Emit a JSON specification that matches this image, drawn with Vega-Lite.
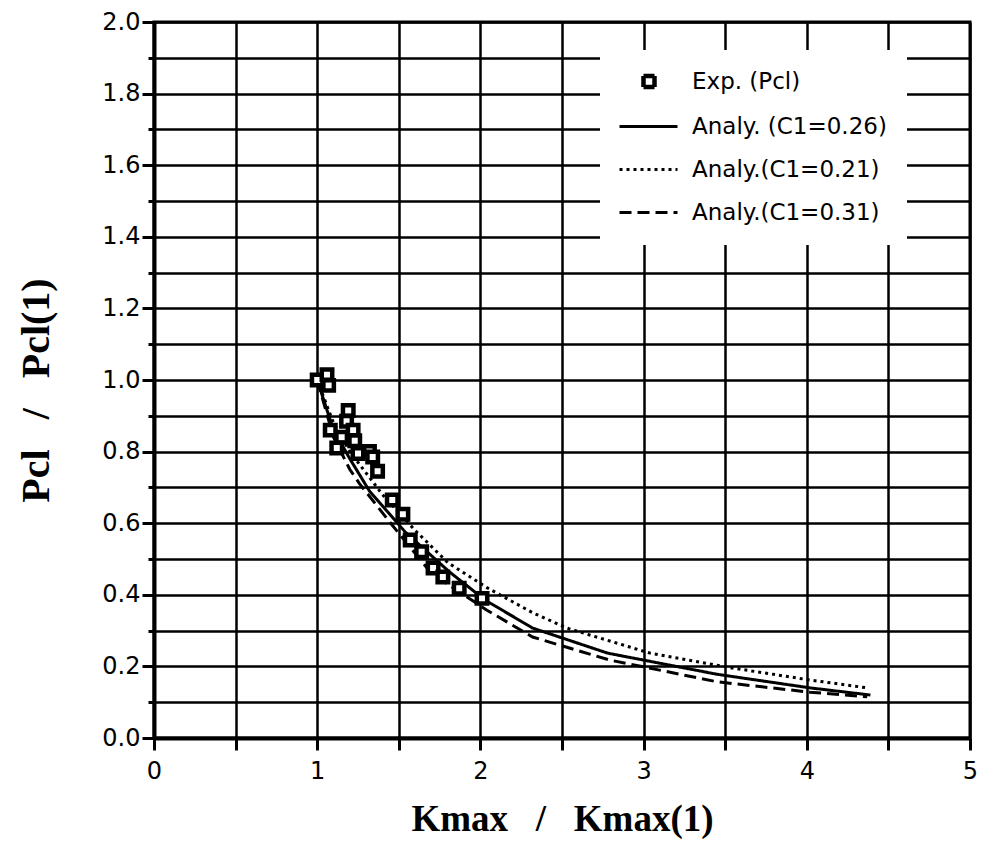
{
  "$schema": "https://vega.github.io/schema/vega-lite/v6.json",
  "width": 816,
  "height": 716,
  "autosize": {"type": "none"},
  "padding": {"left": 154, "top": 22, "right": 12, "bottom": 106},
  "background": "white",
  "config": {
    "view": {"stroke": "black", "strokeWidth": 3},
    "axis": {
      "grid": true,
      "gridColor": "black",
      "gridWidth": 2.5,
      "gridOpacity": 1,
      "domainColor": "black",
      "domainWidth": 4,
      "tickColor": "black",
      "tickWidth": 3,
      "labelColor": "black",
      "labelFont": "DejaVu Sans",
      "labelFontSize": 24,
      "titleColor": "black",
      "titleFont": "Liberation Serif",
      "titleFontWeight": "bold"
    }
  },
  "data": {
    "values": [
      {"series": "Exp. (Pcl)", "x": 1.0, "y": 1.0},
      {"series": "Exp. (Pcl)", "x": 1.06, "y": 1.015},
      {"series": "Exp. (Pcl)", "x": 1.07, "y": 0.985},
      {"series": "Exp. (Pcl)", "x": 1.19, "y": 0.915},
      {"series": "Exp. (Pcl)", "x": 1.18, "y": 0.885},
      {"series": "Exp. (Pcl)", "x": 1.08, "y": 0.86},
      {"series": "Exp. (Pcl)", "x": 1.15, "y": 0.84},
      {"series": "Exp. (Pcl)", "x": 1.22, "y": 0.86},
      {"series": "Exp. (Pcl)", "x": 1.12, "y": 0.81},
      {"series": "Exp. (Pcl)", "x": 1.23, "y": 0.83},
      {"series": "Exp. (Pcl)", "x": 1.25, "y": 0.795},
      {"series": "Exp. (Pcl)", "x": 1.32, "y": 0.80},
      {"series": "Exp. (Pcl)", "x": 1.34, "y": 0.785},
      {"series": "Exp. (Pcl)", "x": 1.37, "y": 0.745},
      {"series": "Exp. (Pcl)", "x": 1.46, "y": 0.665},
      {"series": "Exp. (Pcl)", "x": 1.525, "y": 0.625},
      {"series": "Exp. (Pcl)", "x": 1.57, "y": 0.553},
      {"series": "Exp. (Pcl)", "x": 1.64, "y": 0.52},
      {"series": "Exp. (Pcl)", "x": 1.71, "y": 0.475},
      {"series": "Exp. (Pcl)", "x": 1.77, "y": 0.45},
      {"series": "Exp. (Pcl)", "x": 1.87, "y": 0.418},
      {"series": "Exp. (Pcl)", "x": 2.01, "y": 0.39},

      {"series": "Analy. (C1=0.26)", "x": 1.0, "y": 1.0},
      {"series": "Analy. (C1=0.26)", "x": 1.05, "y": 0.93},
      {"series": "Analy. (C1=0.26)", "x": 1.1, "y": 0.86},
      {"series": "Analy. (C1=0.26)", "x": 1.2, "y": 0.78},
      {"series": "Analy. (C1=0.26)", "x": 1.32, "y": 0.69},
      {"series": "Analy. (C1=0.26)", "x": 1.54, "y": 0.575},
      {"series": "Analy. (C1=0.26)", "x": 1.81, "y": 0.464},
      {"series": "Analy. (C1=0.26)", "x": 2.03, "y": 0.385},
      {"series": "Analy. (C1=0.26)", "x": 2.32, "y": 0.307},
      {"series": "Analy. (C1=0.26)", "x": 2.78, "y": 0.237},
      {"series": "Analy. (C1=0.26)", "x": 3.45, "y": 0.178},
      {"series": "Analy. (C1=0.26)", "x": 4.02, "y": 0.14},
      {"series": "Analy. (C1=0.26)", "x": 4.39, "y": 0.12},

      {"series": "Analy.(C1=0.21)", "x": 1.0, "y": 1.0},
      {"series": "Analy.(C1=0.21)", "x": 1.1, "y": 0.88},
      {"series": "Analy.(C1=0.21)", "x": 1.2, "y": 0.8},
      {"series": "Analy.(C1=0.21)", "x": 1.4, "y": 0.68},
      {"series": "Analy.(C1=0.21)", "x": 1.6, "y": 0.58},
      {"series": "Analy.(C1=0.21)", "x": 1.8, "y": 0.49},
      {"series": "Analy.(C1=0.21)", "x": 2.04, "y": 0.42},
      {"series": "Analy.(C1=0.21)", "x": 2.32, "y": 0.35},
      {"series": "Analy.(C1=0.21)", "x": 2.53, "y": 0.307},
      {"series": "Analy.(C1=0.21)", "x": 3.04, "y": 0.237},
      {"series": "Analy.(C1=0.21)", "x": 3.51, "y": 0.198},
      {"series": "Analy.(C1=0.21)", "x": 4.02, "y": 0.162},
      {"series": "Analy.(C1=0.21)", "x": 4.37, "y": 0.14},

      {"series": "Analy.(C1=0.31)", "x": 1.0, "y": 1.0},
      {"series": "Analy.(C1=0.31)", "x": 1.1, "y": 0.84},
      {"series": "Analy.(C1=0.31)", "x": 1.2, "y": 0.75},
      {"series": "Analy.(C1=0.31)", "x": 1.26, "y": 0.71},
      {"series": "Analy.(C1=0.31)", "x": 1.45, "y": 0.6},
      {"series": "Analy.(C1=0.31)", "x": 1.7, "y": 0.46},
      {"series": "Analy.(C1=0.31)", "x": 2.04, "y": 0.357},
      {"series": "Analy.(C1=0.31)", "x": 2.32, "y": 0.282},
      {"series": "Analy.(C1=0.31)", "x": 2.79, "y": 0.218},
      {"series": "Analy.(C1=0.31)", "x": 3.45, "y": 0.157},
      {"series": "Analy.(C1=0.31)", "x": 4.02, "y": 0.128},
      {"series": "Analy.(C1=0.31)", "x": 4.37, "y": 0.115}
    ]
  },
  "encoding": {
    "x": {
      "field": "x",
      "type": "quantitative",
      "scale": {"domain": [0, 5], "nice": false, "zero": false},
      "axis": {
        "values": [0, 0.5, 1, 1.5, 2, 2.5, 3, 3.5, 4, 4.5, 5],
        "labelExpr": "datum.value % 1 === 0 ? format(datum.value, 'd') : ''",
        "tickSize": 12,
        "labelPadding": 9,
        "labelFlush": false,
        "labelOverlap": false,
        "title": "Kmax\u00a0\u00a0\u00a0/\u00a0\u00a0\u00a0Kmax(1)",
        "titleFontSize": 37,
        "titleY": 92,
        "titleBaseline": "alphabetic"
      }
    },
    "y": {
      "field": "y",
      "type": "quantitative",
      "scale": {"domain": [0, 2], "nice": false, "zero": false},
      "axis": {
        "values": [0, 0.1, 0.2, 0.3, 0.4, 0.5, 0.6, 0.7, 0.8, 0.9, 1.0, 1.1, 1.2, 1.3, 1.4, 1.5, 1.6, 1.7, 1.8, 1.9, 2.0],
        "labelExpr": "round(datum.value * 10) % 2 === 0 ? format(datum.value, '.1f') : ''",
        "tickSize": {"condition": {"test": "round(datum.value * 10) % 2 === 0", "value": 12}, "value": 6},
        "labelPadding": 2,
        "labelFlush": false,
        "labelOverlap": false,
        "title": "Pcl\u00a0\u00a0\u00a0/\u00a0\u00a0\u00a0Pcl(1)",
        "titleFontSize": 40,
        "titleAngle": -90,
        "titleX": -106,
        "titleY": 368,
        "titleAlign": "center",
        "titleBaseline": "alphabetic"
      }
    }
  },
  "layer": [
    {
      "transform": [{"filter": "datum.series !== 'Exp. (Pcl)'"}],
      "mark": {"type": "line", "color": "black", "strokeWidth": 3},
      "encoding": {
        "strokeDash": {
          "field": "series",
          "type": "nominal",
          "scale": {
            "domain": ["Exp. (Pcl)", "Analy. (C1=0.26)", "Analy.(C1=0.21)", "Analy.(C1=0.31)"],
            "range": [[1, 0], [1, 0], [3, 4], [12, 6]]
          },
          "legend": {
            "title": null,
            "orient": "none",
            "legendX": 446,
            "legendY": 28,
            "fillColor": "white",
            "padding": 20,
            "rowPadding": 19,
            "labelOffset": 49,
            "labelFont": "DejaVu Sans",
            "labelFontSize": 23,
            "labelColor": "black",
            "labelLimit": 400,
            "symbolSize": 400,
            "symbolStrokeWidth": 3,
            "symbolStrokeColor": "black",
            "encode": {
              "symbols": {
                "update": {
                  "shape": {"signal": "datum.value === 'Exp. (Pcl)' ? 'M1.2,-0.55H2.3V0.55H1.2Z' : 'M-1.2,0H4.6'"},
                  "fill": {"signal": "datum.value === 'Exp. (Pcl)' ? 'white' : 'transparent'"},
                  "strokeWidth": {"signal": "datum.value === 'Exp. (Pcl)' ? 4.5 : 3"},
                  "stroke": {"value": "black"},
                  "opacity": {"value": 1}
                }
              }
            }
          }
        }
      }
    },
    {
      "transform": [{"filter": "datum.series === 'Exp. (Pcl)'"}],
      "mark": {"type": "point", "shape": "square", "size": 110, "fill": "white", "stroke": "black", "strokeWidth": 4.5, "opacity": 1}
    }
  ]
}
